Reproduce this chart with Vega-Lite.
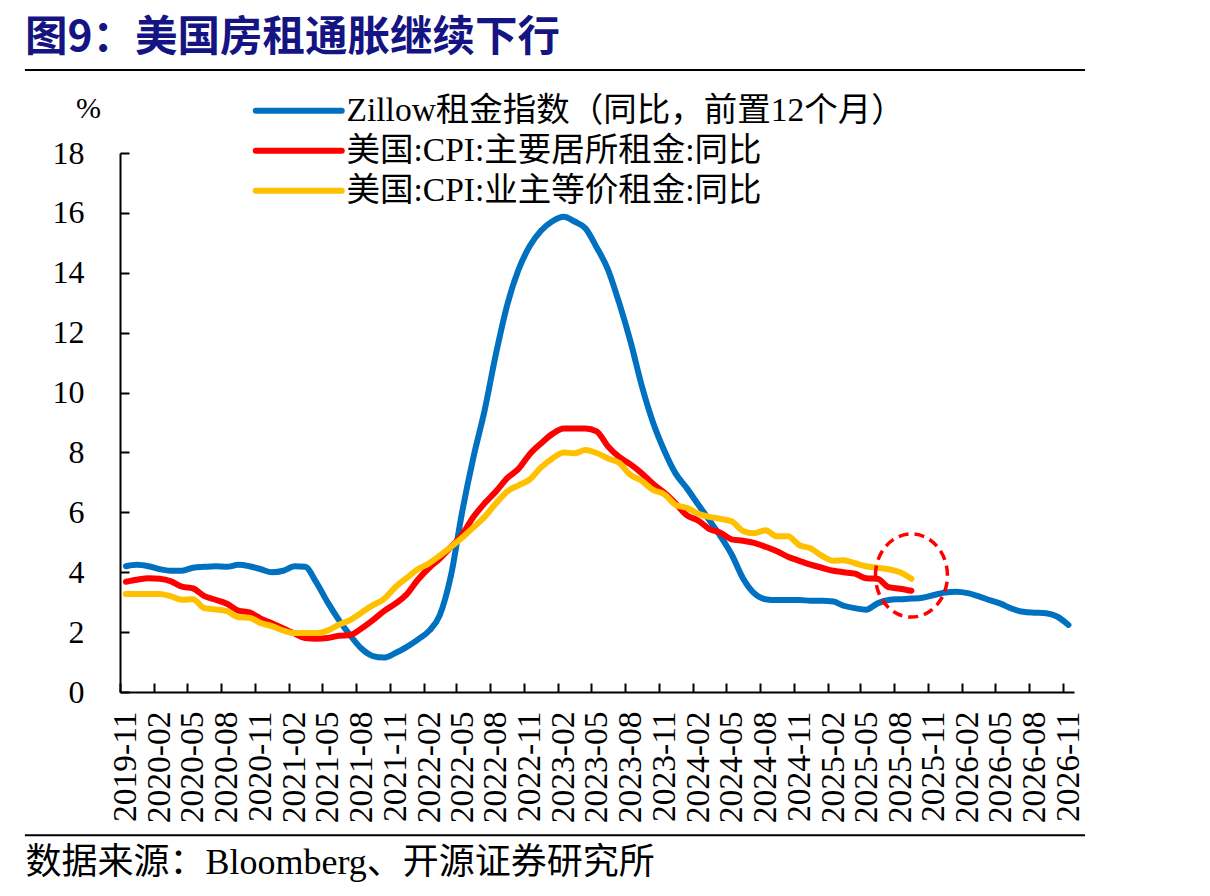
{
  "$schema": "https://vega.github.io/schema/vega-lite/v6.json",
  "width": 954,
  "height": 539,
  "autosize": {"type": "none"},
  "padding": {"left": 120, "top": 153, "right": 136, "bottom": 204},
  "background": "white",
  "title": {
    "text": "图9：美国房租通胀继续下行",
    "anchor": "start",
    "frame": "group",
    "font": "Noto Sans CJK SC",
    "fontSize": 42.5,
    "fontWeight": "bold",
    "color": "#141482",
    "dx": -95,
    "offset": 10
  },
  "config": {"view": {"stroke": null}},
  "resolve": {"axis": {"x": "independent", "y": "independent"}},
  "data": {
    "format": {"parse": {"month": "utc:'%Y-%m'"}},
    "values": [
      {"month": "2019-11", "zillow": 4.2, "rent": 3.68, "oer": 3.27},
      {"month": "2019-12", "zillow": 4.25, "rent": 3.75, "oer": 3.27},
      {"month": "2020-01", "zillow": 4.2, "rent": 3.8, "oer": 3.27},
      {"month": "2020-02", "zillow": 4.1, "rent": 3.78, "oer": 3.27},
      {"month": "2020-03", "zillow": 4.05, "rent": 3.7, "oer": 3.2},
      {"month": "2020-04", "zillow": 4.05, "rent": 3.52, "oer": 3.08},
      {"month": "2020-05", "zillow": 4.15, "rent": 3.46, "oer": 3.1},
      {"month": "2020-06", "zillow": 4.18, "rent": 3.2, "oer": 2.8},
      {"month": "2020-07", "zillow": 4.2, "rent": 3.08, "oer": 2.76},
      {"month": "2020-08", "zillow": 4.18, "rent": 2.95, "oer": 2.7},
      {"month": "2020-09", "zillow": 4.25, "rent": 2.72, "oer": 2.5},
      {"month": "2020-10", "zillow": 4.2, "rent": 2.66, "oer": 2.48},
      {"month": "2020-11", "zillow": 4.1, "rent": 2.45, "oer": 2.3},
      {"month": "2020-12", "zillow": 4.0, "rent": 2.3, "oer": 2.2},
      {"month": "2021-01", "zillow": 4.05, "rent": 2.12, "oer": 2.05},
      {"month": "2021-02", "zillow": 4.2, "rent": 1.95, "oer": 1.97},
      {"month": "2021-03", "zillow": 4.18, "rent": 1.8, "oer": 1.97},
      {"month": "2021-04", "zillow": 3.65, "rent": 1.78, "oer": 1.97},
      {"month": "2021-05", "zillow": 3.0, "rent": 1.8, "oer": 2.05},
      {"month": "2021-06", "zillow": 2.4, "rent": 1.88, "oer": 2.25},
      {"month": "2021-07", "zillow": 1.9, "rent": 1.9, "oer": 2.4},
      {"month": "2021-08", "zillow": 1.45, "rent": 2.12, "oer": 2.65},
      {"month": "2021-09", "zillow": 1.2, "rent": 2.4, "oer": 2.9},
      {"month": "2021-10", "zillow": 1.15, "rent": 2.7, "oer": 3.1},
      {"month": "2021-11", "zillow": 1.3, "rent": 2.95, "oer": 3.5},
      {"month": "2021-12", "zillow": 1.5, "rent": 3.25, "oer": 3.8},
      {"month": "2022-01", "zillow": 1.75, "rent": 3.75, "oer": 4.1},
      {"month": "2022-02", "zillow": 2.05, "rent": 4.15, "oer": 4.3},
      {"month": "2022-03", "zillow": 2.55, "rent": 4.45, "oer": 4.55},
      {"month": "2022-04", "zillow": 3.9, "rent": 4.85, "oer": 4.85},
      {"month": "2022-05", "zillow": 6.0, "rent": 5.25, "oer": 5.15},
      {"month": "2022-06", "zillow": 7.85, "rent": 5.85, "oer": 5.5},
      {"month": "2022-07", "zillow": 9.4, "rent": 6.3, "oer": 5.85},
      {"month": "2022-08", "zillow": 11.3, "rent": 6.7, "oer": 6.3},
      {"month": "2022-09", "zillow": 12.95, "rent": 7.15, "oer": 6.7},
      {"month": "2022-10", "zillow": 14.1, "rent": 7.45, "oer": 6.9},
      {"month": "2022-11", "zillow": 14.9, "rent": 7.95, "oer": 7.1},
      {"month": "2022-12", "zillow": 15.4, "rent": 8.3, "oer": 7.5},
      {"month": "2023-01", "zillow": 15.72, "rent": 8.62, "oer": 7.8},
      {"month": "2023-02", "zillow": 15.87, "rent": 8.8, "oer": 8.0},
      {"month": "2023-03", "zillow": 15.72, "rent": 8.8, "oer": 7.97},
      {"month": "2023-04", "zillow": 15.48, "rent": 8.8, "oer": 8.08},
      {"month": "2023-05", "zillow": 14.85, "rent": 8.7, "oer": 7.98},
      {"month": "2023-06", "zillow": 14.1, "rent": 8.2, "oer": 7.8},
      {"month": "2023-07", "zillow": 13.0, "rent": 7.85, "oer": 7.65},
      {"month": "2023-08", "zillow": 11.7, "rent": 7.6, "oer": 7.25},
      {"month": "2023-09", "zillow": 10.2, "rent": 7.3, "oer": 7.05},
      {"month": "2023-10", "zillow": 9.0, "rent": 6.95, "oer": 6.75},
      {"month": "2023-11", "zillow": 8.05, "rent": 6.65, "oer": 6.6},
      {"month": "2023-12", "zillow": 7.3, "rent": 6.3, "oer": 6.25},
      {"month": "2024-01", "zillow": 6.8, "rent": 5.9, "oer": 6.15},
      {"month": "2024-02", "zillow": 6.25, "rent": 5.72, "oer": 5.95},
      {"month": "2024-03", "zillow": 5.75, "rent": 5.45, "oer": 5.85},
      {"month": "2024-04", "zillow": 5.2, "rent": 5.32, "oer": 5.78},
      {"month": "2024-05", "zillow": 4.6, "rent": 5.1, "oer": 5.7},
      {"month": "2024-06", "zillow": 3.8, "rent": 5.05, "oer": 5.38},
      {"month": "2024-07", "zillow": 3.3, "rent": 4.98, "oer": 5.3},
      {"month": "2024-08", "zillow": 3.1, "rent": 4.85, "oer": 5.4},
      {"month": "2024-09", "zillow": 3.07, "rent": 4.7, "oer": 5.2},
      {"month": "2024-10", "zillow": 3.07, "rent": 4.52, "oer": 5.2},
      {"month": "2024-11", "zillow": 3.07, "rent": 4.38, "oer": 4.9},
      {"month": "2024-12", "zillow": 3.05, "rent": 4.25, "oer": 4.8},
      {"month": "2025-01", "zillow": 3.05, "rent": 4.15, "oer": 4.55},
      {"month": "2025-02", "zillow": 3.02, "rent": 4.05, "oer": 4.38},
      {"month": "2025-03", "zillow": 2.88, "rent": 4.0, "oer": 4.4},
      {"month": "2025-04", "zillow": 2.8, "rent": 3.95, "oer": 4.3},
      {"month": "2025-05", "zillow": 2.75, "rent": 3.8, "oer": 4.2},
      {"month": "2025-06", "zillow": 2.96, "rent": 3.78, "oer": 4.15},
      {"month": "2025-07", "zillow": 3.07, "rent": 3.5, "oer": 4.1},
      {"month": "2025-08", "zillow": 3.1, "rent": 3.45, "oer": 4.0},
      {"month": "2025-09", "zillow": 3.12, "rent": 3.38, "oer": 3.78},
      {"month": "2025-10", "zillow": 3.15},
      {"month": "2025-11", "zillow": 3.24},
      {"month": "2025-12", "zillow": 3.32},
      {"month": "2026-01", "zillow": 3.35},
      {"month": "2026-02", "zillow": 3.3},
      {"month": "2026-03", "zillow": 3.2},
      {"month": "2026-04", "zillow": 3.07},
      {"month": "2026-05", "zillow": 2.95},
      {"month": "2026-06", "zillow": 2.78},
      {"month": "2026-07", "zillow": 2.68},
      {"month": "2026-08", "zillow": 2.65},
      {"month": "2026-09", "zillow": 2.63},
      {"month": "2026-10", "zillow": 2.52},
      {"month": "2026-11", "zillow": 2.24}
    ]
  },
  "layer": [
    {
      "transform": [{"fold": ["zillow", "rent", "oer"], "as": ["series", "value"]}],
      "mark": {"type": "line", "interpolate": "monotone", "strokeWidth": 6, "strokeCap": "round", "strokeJoin": "round"},
      "encoding": {
        "x": {
          "field": "month",
          "type": "temporal",
          "scale": {"type": "utc", "nice": false, "domain": [{"year": 2019, "month": 10, "date": 16, "utc": true}, {"year": 2026, "month": 11, "date": 16, "utc": true}]},
          "axis": {
            "values": [
              {"year": 2019, "month": 11, "date": 1, "utc": true},
              {"year": 2020, "month": 2, "date": 1, "utc": true},
              {"year": 2020, "month": 5, "date": 1, "utc": true},
              {"year": 2020, "month": 8, "date": 1, "utc": true},
              {"year": 2020, "month": 11, "date": 1, "utc": true},
              {"year": 2021, "month": 2, "date": 1, "utc": true},
              {"year": 2021, "month": 5, "date": 1, "utc": true},
              {"year": 2021, "month": 8, "date": 1, "utc": true},
              {"year": 2021, "month": 11, "date": 1, "utc": true},
              {"year": 2022, "month": 2, "date": 1, "utc": true},
              {"year": 2022, "month": 5, "date": 1, "utc": true},
              {"year": 2022, "month": 8, "date": 1, "utc": true},
              {"year": 2022, "month": 11, "date": 1, "utc": true},
              {"year": 2023, "month": 2, "date": 1, "utc": true},
              {"year": 2023, "month": 5, "date": 1, "utc": true},
              {"year": 2023, "month": 8, "date": 1, "utc": true},
              {"year": 2023, "month": 11, "date": 1, "utc": true},
              {"year": 2024, "month": 2, "date": 1, "utc": true},
              {"year": 2024, "month": 5, "date": 1, "utc": true},
              {"year": 2024, "month": 8, "date": 1, "utc": true},
              {"year": 2024, "month": 11, "date": 1, "utc": true},
              {"year": 2025, "month": 2, "date": 1, "utc": true},
              {"year": 2025, "month": 5, "date": 1, "utc": true},
              {"year": 2025, "month": 8, "date": 1, "utc": true},
              {"year": 2025, "month": 11, "date": 1, "utc": true},
              {"year": 2026, "month": 2, "date": 1, "utc": true},
              {"year": 2026, "month": 5, "date": 1, "utc": true},
              {"year": 2026, "month": 8, "date": 1, "utc": true},
              {"year": 2026, "month": 11, "date": 1, "utc": true}
            ],
            "labelExpr": "utcFormat(datum.value, '%Y-%m')",
            "labelAngle": -90,
            "labelFont": "Liberation Serif",
            "labelFontSize": 33.5,
            "labelColor": "black",
            "labelOverlap": false,
            "labelFlush": false,
            "labelBound": false,
            "labelPadding": 28,
            "tickOffset": -5.7,
            "labelOffset": 5.7,
            "tickSize": -9,
            "tickWidth": 2,
            "tickColor": "black",
            "domainColor": "black",
            "domainWidth": 2,
            "grid": false,
            "title": "数据来源：Bloomberg、开源证券研究所",
            "titleFont": "Liberation Serif, Noto Sans CJK SC",
            "titleFontSize": 36,
            "titleFontWeight": "normal",
            "titleColor": "black",
            "titleAlign": "left",
            "titleBaseline": "middle",
            "titleAnchor": null,
            "titleX": -95,
            "titleY": 170
          }
        },
        "y": {
          "field": "value",
          "type": "quantitative",
          "scale": {"domain": [0, 18], "nice": false},
          "axis": {
            "values": [0, 2, 4, 6, 8, 10, 12, 14, 16, 18],
            "labelFont": "Liberation Serif",
            "labelFontSize": 32,
            "labelColor": "black",
            "labelPadding": 45,
            "tickSize": -9,
            "tickWidth": 2,
            "tickColor": "black",
            "domainColor": "black",
            "domainWidth": 2,
            "grid": false,
            "title": "%",
            "titleAngle": 0,
            "titleFont": "Liberation Serif",
            "titleFontSize": 30,
            "titleFontWeight": "normal",
            "titleColor": "black",
            "titleAlign": "center",
            "titleBaseline": "middle",
            "titleAnchor": null,
            "titleX": -32,
            "titleY": -45
          }
        },
        "color": {
          "field": "series",
          "type": "nominal",
          "scale": {"domain": ["zillow", "rent", "oer"], "range": ["#0070C0", "#FF0000", "#FFC000"]},
          "legend": {
            "orient": "none",
            "legendX": 162,
            "legendY": -59,
            "title": null,
            "direction": "vertical",
            "padding": 0,
            "symbolType": "M-4.3,0H4.3",
            "symbolSize": 400,
            "symbolStrokeWidth": 6,
            "labelFont": "Liberation Serif, Noto Sans CJK SC",
            "labelFontSize": 33.5,
            "labelColor": "black",
            "labelLimit": 900,
            "labelOffset": 31,
            "rowPadding": 5,
            "labelExpr": "datum.value === 'zillow' ? 'Zillow租金指数（同比，前置12个月）' : datum.value === 'rent' ? '美国:CPI:主要居所租金:同比' : '美国:CPI:业主等价租金:同比'",
            "encode": {"symbols": {"update": {"strokeCap": {"value": "round"}}}}
          }
        }
      }
    },
    {
      "data": {"values": [{}]},
      "mark": {"type": "rule", "stroke": "black", "strokeWidth": 2},
      "encoding": {
        "x": {"datum": {"year": 2019, "month": 1, "date": 31, "utc": true}, "type": "temporal", "axis": null},
        "x2": {"datum": {"year": 2026, "month": 12, "date": 16, "utc": true}},
        "y": {"datum": 20.77, "type": "quantitative", "axis": null}
      }
    },
    {
      "data": {"values": [{}]},
      "mark": {"type": "rule", "stroke": "black", "strokeWidth": 2},
      "encoding": {
        "x": {"datum": {"year": 2019, "month": 1, "date": 31, "utc": true}, "type": "temporal", "axis": null},
        "x2": {"datum": {"year": 2026, "month": 12, "date": 16, "utc": true}},
        "y": {"datum": -4.78, "type": "quantitative", "axis": null}
      }
    },
    {
      "data": {"values": [{}]},
      "mark": {
        "type": "point",
        "shape": "M-1,0A1,1.155 0 1,1 1,0A1,1.155 0 1,1 -1,0Z",
        "size": 5184,
        "filled": false,
        "stroke": "#FF0000",
        "strokeWidth": 3.5,
        "strokeDash": [10, 6],
        "opacity": 1
      },
      "encoding": {
        "x": {"datum": {"year": 2025, "month": 9, "date": 1, "utc": true}, "type": "temporal", "axis": null},
        "y": {"datum": 3.89, "type": "quantitative", "axis": null}
      }
    }
  ]
}
